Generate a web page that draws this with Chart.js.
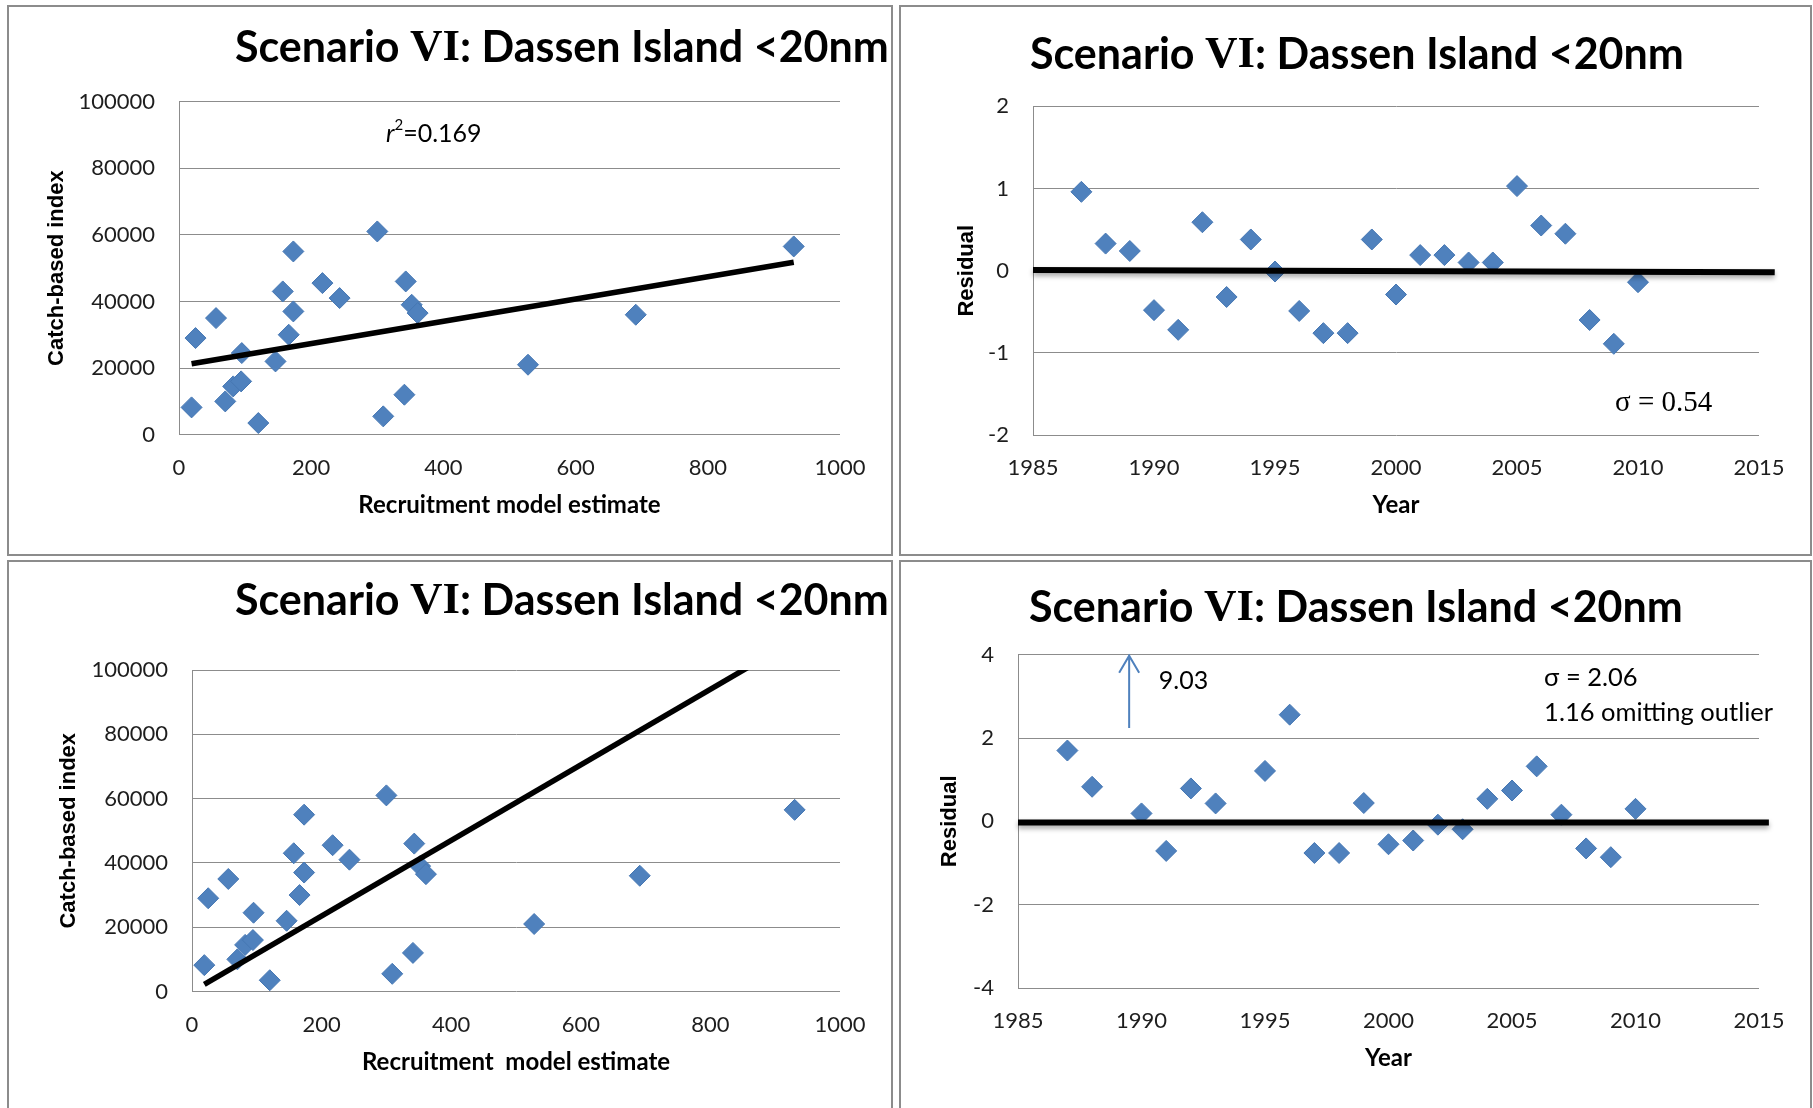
<!DOCTYPE html>
<html>
<head>
<meta charset="utf-8">
<title>Scenario VI: Dassen Island &lt;20nm</title>
<script src="https://cdn.jsdelivr.net/npm/chart.js@4.4.1/dist/chart.umd.min.js"></script>
<style>
  html, body { margin: 0; padding: 0; background: #fff; }
  body { width: 1813px; height: 1108px; overflow: hidden; position: relative; }
  .panel { position: absolute; box-sizing: border-box; border: 2px solid #8c8c8c; }
  .panel canvas { position: absolute; left: -2px; top: -2px; }
</style>
</head>
<body>
<div class="panel" style="left:7px;top:5px;width:886px;height:551px"><canvas id="fitFree" width="886" height="551"></canvas></div>
<div class="panel" style="left:899px;top:5px;width:913px;height:551px"><canvas id="residFree" width="913" height="551"></canvas></div>
<div class="panel" style="left:7px;top:560px;width:886px;height:560px"><canvas id="fitOrigin" width="886" height="560"></canvas></div>
<div class="panel" style="left:899px;top:560px;width:913px;height:560px"><canvas id="residOrigin" width="913" height="560"></canvas></div>

<script>
// recruitment model estimate vs catch-based index (one pair per year)
const recruitEstimate = [19, 25, 56, 70, 82, 94, 95, 120, 146, 157, 166, 173,
                         173, 217, 243, 300, 309, 341, 343, 352, 361, 528, 691, 930];
const catchIndex = [8200, 29000, 35000, 10000, 14500, 16000, 24500, 3500, 22000, 43000, 30000, 55000,
                    37000, 45500, 41000, 61000, 5500, 12000, 46000, 39000, 36500, 21000, 36000, 56500];

// regression fits: with intercept (r2 = 0.169) and through the origin
const fitWithIntercept = { slope: 33.4, intercept: 20670 };
const fitThroughOrigin = { slope: 117.5, intercept: 0 };

const years = [1987, 1988, 1989, 1990, 1991, 1992, 1993, 1994, 1995, 1996, 1997, 1998,
               1999, 2000, 2001, 2002, 2003, 2004, 2005, 2006, 2007, 2008, 2009, 2010];
const residFree = [0.96, 0.33, 0.24, -0.48, -0.72, 0.59, -0.32, 0.38, -0.01, -0.49, -0.76, -0.76,
                   0.38, -0.29, 0.19, 0.19, 0.10, 0.10, 1.03, 0.55, 0.45, -0.60, -0.89, -0.14];
// 1989 is off the scale (9.03), 1994 has no value
const residOrigin = [1.70, 0.83, 9.03, 0.19, -0.71, 0.79, 0.43, null, 1.21, 2.56, -0.76, -0.76,
                     0.44, -0.55, -0.46, -0.08, -0.19, 0.54, 0.74, 1.32, 0.16, -0.65, -0.86, 0.30];

// zero reference lines on the residual plots (drawn a little past the axis)
const zeroFreeX = [1985, 2015.65], zeroFreeY = [0.01, -0.02];
const zeroOriginX = [1985, 2015.4], zeroOriginY = [-0.03, -0.03];

const BLUE = '#4F81BD';
const GRID = '#8c8c8c';
const SANS = 'Lato, "Liberation Sans", Arial, sans-serif';
const WIDE = '"Liberation Sans", Arial, sans-serif';
const SERIF = '"Liberation Serif", "Times New Roman", serif';

const pairs = (xs, ys) => xs.map((x, i) => ({ x, y: ys[i] })).filter(p => p.y !== null);
const fitLine = (fit) => {
  const lo = Math.min(...recruitEstimate), hi = Math.max(...recruitEstimate);
  return [lo, hi].map(x => ({ x, y: fit.intercept + fit.slope * x }));
};

// heading with the roman numeral set in a serif face
const heading = {
  id: 'heading',
  afterDraw(chart, args, opts) {
    const ctx = chart.ctx;
    const parts = [
      { text: 'Scenario ', font: 'bold 43px ' + SANS },
      { text: 'VI', font: 'bold 45px ' + SERIF },
      { text: ': Dassen Island <20nm', font: 'bold 43px ' + SANS }
    ];
    ctx.save();
    ctx.fillStyle = '#000';
    ctx.textBaseline = 'middle';
    let x = opts.x;
    parts.forEach(p => {
      ctx.font = p.font;
      ctx.fillText(p.text, x, opts.y);
      x += ctx.measureText(p.text).width;
    });
    ctx.restore();
  }
};

// free text placed in data units, plus the outlier arrow
const notes = {
  id: 'notes',
  afterDatasetsDraw(chart, args, opts) {
    const ctx = chart.ctx;
    const xs = chart.scales.x, ys = chart.scales.y;
    ctx.save();
    ctx.textBaseline = 'middle';
    ctx.fillStyle = '#000';
    (opts.texts || []).forEach(n => {
      let px = xs.getPixelForValue(n.x);
      const py = ys.getPixelForValue(n.y);
      n.parts.forEach(p => {
        ctx.font = p.font;
        ctx.fillText(p.text, px, py + (p.dy || 0));
        px += ctx.measureText(p.text).width;
      });
    });
    if (opts.arrow) {
      const a = opts.arrow;
      const ax = xs.getPixelForValue(a.x);
      const y0 = ys.getPixelForValue(a.from), y1 = ys.getPixelForValue(a.to);
      ctx.strokeStyle = BLUE;
      ctx.lineWidth = 2;
      ctx.beginPath();
      ctx.moveTo(ax, y0);
      ctx.lineTo(ax, y1);
      ctx.moveTo(ax - 10, y1 + 18);
      ctx.lineTo(ax, y1 + 1);
      ctx.lineTo(ax + 10, y1 + 18);
      ctx.stroke();
    }
    ctx.restore();
  }
};

// soft shadow under the thick zero lines
const lineShadow = {
  id: 'lineShadow',
  beforeDatasetDraw(chart, args) {
    if (!chart.data.datasets[args.index].shadow) return;
    const ctx = chart.ctx;
    ctx.save();
    ctx.shadowColor = 'rgba(0,0,0,0.35)';
    ctx.shadowBlur = 5;
    ctx.shadowOffsetY = 3;
  },
  afterDatasetDraw(chart, args) {
    if (chart.data.datasets[args.index].shadow) chart.ctx.restore();
  }
};

function scatterSet(data) {
  return {
    data, showLine: false,
    pointStyle: 'rectRot', pointRadius: 10.5, pointHoverRadius: 10.5,
    backgroundColor: BLUE, borderColor: '#4677b3', borderWidth: 1
  };
}

function lineSet(data, extra) {
  return Object.assign({
    data, showLine: true, pointRadius: 0, borderColor: '#000', borderWidth: 5.5
  }, extra || {});
}

function axes(o) {
  return {
    x: {
      type: 'linear', min: o.xMin, max: o.xMax,
      ticks: { stepSize: o.xStep, padding: 20, color: '#1e1e1e', font: { family: SANS, size: 22 }, callback: v => String(v) },
      grid: { display: false, drawTicks: false },
      border: { display: false },
      title: { display: true, text: o.xTitle, color: '#000', font: { family: SANS, size: 24, weight: 'bold' }, padding: { top: 0, bottom: 5 } },
      afterFit(s) { s.height = 90; }
    },
    y: {
      type: 'linear', min: o.yMin, max: o.yMax,
      ticks: { stepSize: o.yStep, padding: 24, color: '#1e1e1e', font: { family: SANS, size: 22 }, callback: v => String(v) },
      grid: { color: GRID, lineWidth: 1, drawTicks: false },
      border: { display: true, color: GRID, width: 1 },
      title: { display: true, text: o.yTitle, color: '#000', font: { family: WIDE, size: 22, weight: 'bold' }, padding: { top: o.yTitlePad, bottom: 0 } },
      afterFit(s) { s.width = o.yWidth; }
    }
  };
}

function build(id, datasets, o) {
  return new Chart(document.getElementById(id), {
    type: 'scatter',
    data: { datasets },
    options: {
      responsive: false,
      animation: false,
      layout: { padding: { left: 0, top: o.top, right: 53, bottom: o.bottom } },
      plugins: {
        legend: { display: false },
        tooltip: { enabled: false },
        heading: { x: o.headX, y: o.headY },
        notes: o.notes || {}
      },
      scales: axes(o)
    },
    plugins: [heading, notes, lineShadow]
  });
}

const fitAxes = { xMin: 0, xMax: 1000, xStep: 200, yMin: 0, yMax: 100000, yStep: 20000,
                  xTitle: 'Recruitment model estimate', yTitle: 'Catch-based index' };

build('fitFree', [
  lineSet(fitLine(fitWithIntercept)),
  scatterSet(pairs(recruitEstimate, catchIndex))
], Object.assign({}, fitAxes, {
  top: 96.5, bottom: 31.3, yWidth: 172, yTitlePad: 36.8, headX: 228, headY: 43,
  notes: { texts: [{ x: 313, y: 90400, parts: [
    { text: 'r', font: 'italic 25px ' + SANS },
    { text: '2', font: '15px ' + SANS, dy: -8 },
    { text: '=0.169', font: '25px ' + SANS }
  ] }] }
}));

build('fitOrigin', [
  lineSet(fitLine(fitThroughOrigin)),
  scatterSet(pairs(recruitEstimate, catchIndex))
], Object.assign({}, fitAxes, {
  xTitle: 'Recruitment  model estimate',
  top: 110, bottom: 38.5, yWidth: 185, yTitlePad: 48.8, headX: 228, headY: 41
}));

const residAxes = { xMin: 1985, xMax: 2015, xStep: 5, xTitle: 'Year', yTitle: 'Residual' };

build('residFree', [
  lineSet(pairs(zeroFreeX, zeroFreeY), { clip: false, borderWidth: 6, shadow: true }),
  scatterSet(pairs(years, residFree))
], Object.assign({}, residAxes, {
  yMin: -2, yMax: 2, yStep: 1,
  top: 101.4, bottom: 31, yWidth: 134, yTitlePad: 54.8, headX: 131, headY: 50,
  notes: { texts: [{ x: 2009.05, y: -1.61, parts: [{ text: 'σ = 0.54', font: '29px ' + SERIF }] }] }
}));

build('residOrigin', [
  lineSet(pairs(zeroOriginX, zeroOriginY), { clip: false, borderWidth: 6, shadow: true }),
  scatterSet(pairs(years, residOrigin))
], Object.assign({}, residAxes, {
  yMin: -4, yMax: 4, yStep: 2,
  top: 94.7, bottom: 42, yWidth: 119, yTitlePad: 37.8, headX: 130, headY: 48,
  notes: {
    texts: [
      { x: 1990.7, y: 3.37, parts: [{ text: '9.03', font: '25px ' + SANS }] },
      { x: 2006.3, y: 3.44, parts: [{ text: 'σ = 2.06', font: '25.5px ' + SANS }] },
      { x: 2006.3, y: 2.60, parts: [{ text: '1.16 omitting outlier', font: '25.5px ' + SANS }] }
    ],
    arrow: { x: 1989.5, from: 2.24, to: 4 }
  }
}));
</script>
</body>
</html>
